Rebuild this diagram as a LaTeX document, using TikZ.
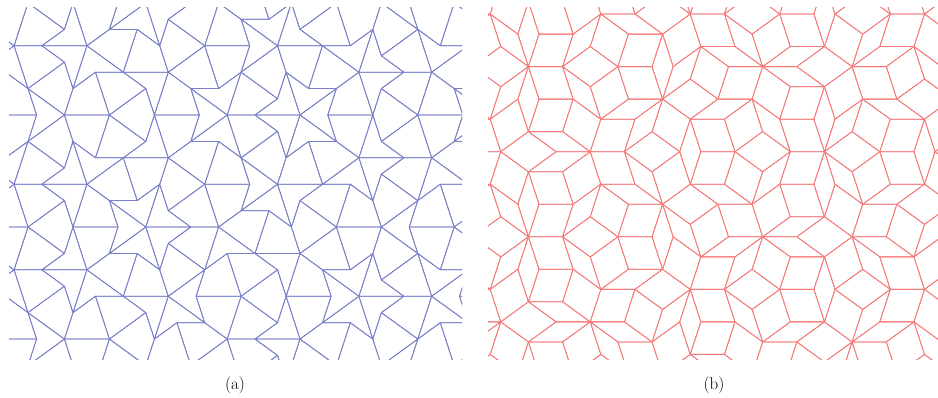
\documentclass[tikz,border=0pt]{standalone}
\usepackage{fontspec}
\usepackage{tikz}
\definecolor{kdblue}{HTML}{7880C8}
\definecolor{rhred}{HTML}{F47A7A}

% 1/phi
\def\gr{0.6180340}

% kites and darts: level, kind (0 half-kite, 1 half-dart), A, B, C
\newcommand\kdsub[8]{%
  \ifnum#1=0
    \draw[kdline] (#7,#8) -- (#3,#4) -- (#5,#6);
  \else
    \begingroup
    \edef\lvl{\the\numexpr#1-1\relax}%
    \ifnum#2=0
      \pgfmathsetmacro\qqx{(#3)+((#5)-(#3))*\gr}%
      \pgfmathsetmacro\qqy{(#4)+((#6)-(#4))*\gr}%
      \pgfmathsetmacro\rrx{(#5)+((#7)-(#5))*\gr}%
      \pgfmathsetmacro\rry{(#6)+((#8)-(#6))*\gr}%
      \xdef\todo{\noexpand\kdsub{\lvl}{1}{\rrx}{\rry}{\qqx}{\qqy}{#5}{#6}%
        \noexpand\kdsub{\lvl}{0}{\qqx}{\qqy}{#3}{#4}{\rrx}{\rry}%
        \noexpand\kdsub{\lvl}{0}{#7}{#8}{#3}{#4}{\rrx}{\rry}}%
    \else
      \pgfmathsetmacro\ppx{(#7)+((#3)-(#7))*\gr}%
      \pgfmathsetmacro\ppy{(#8)+((#4)-(#8))*\gr}%
      \xdef\todo{\noexpand\kdsub{\lvl}{1}{#5}{#6}{\ppx}{\ppy}{#3}{#4}%
        \noexpand\kdsub{\lvl}{0}{\ppx}{\ppy}{#7}{#8}{#5}{#6}}%
    \fi
    \expandafter\endgroup\todo
  \fi}

% rhombs: level, kind (0 thin half, 1 thick half), A, B, C
\newcommand\rhsub[8]{%
  \ifnum#1=0
    \draw[rhline] (#7,#8) -- (#3,#4) -- (#5,#6);
  \else
    \begingroup
    \edef\lvl{\the\numexpr#1-1\relax}%
    \ifnum#2=0
      \pgfmathsetmacro\ppx{(#3)+((#5)-(#3))*\gr}%
      \pgfmathsetmacro\ppy{(#4)+((#6)-(#4))*\gr}%
      \xdef\todo{\noexpand\rhsub{\lvl}{0}{#7}{#8}{\ppx}{\ppy}{#5}{#6}%
        \noexpand\rhsub{\lvl}{1}{\ppx}{\ppy}{#7}{#8}{#3}{#4}}%
    \else
      \pgfmathsetmacro\qqx{(#5)+((#3)-(#5))*\gr}%
      \pgfmathsetmacro\qqy{(#6)+((#4)-(#6))*\gr}%
      \pgfmathsetmacro\rrx{(#5)+((#7)-(#5))*\gr}%
      \pgfmathsetmacro\rry{(#6)+((#8)-(#6))*\gr}%
      \xdef\todo{\noexpand\rhsub{\lvl}{1}{\rrx}{\rry}{#7}{#8}{#3}{#4}%
        \noexpand\rhsub{\lvl}{1}{\qqx}{\qqy}{\rrx}{\rry}{#5}{#6}%
        \noexpand\rhsub{\lvl}{0}{\rrx}{\rry}{\qqx}{\qqy}{#3}{#4}}%
    \fi
    \expandafter\endgroup\todo
  \fi}

\begin{document}
\begin{tikzpicture}[
  x=1pt, y=-1pt,
  kdline/.style = {draw=kdblue, line width=0.8pt, line join=round},
  rhline/.style = {draw=rhred, line width=0.8pt, line join=round},
  lbl/.style = {font=\fontsize{17}{20}\selectfont, inner sep=0pt}
]
\useasboundingbox (0,0) rectangle (938,398);

% (a) kites and darts, sun of ten half-kites
\begin{scope}
  \clip (9,8) rectangle (462,360);
  \foreach \k in {0,...,4}{
    \pgfmathsetmacro\tx{300+499*cos(72*\k+180)}
    \pgfmathsetmacro\ty{115+499*sin(72*\k+180)}
    \pgfmathsetmacro\sax{300+499*cos(72*\k+216)}
    \pgfmathsetmacro\say{115+499*sin(72*\k+216)}
    \pgfmathsetmacro\sbx{300+499*cos(72*\k+144)}
    \pgfmathsetmacro\sby{115+499*sin(72*\k+144)}
    \kdsub{5}{0}{\sax}{\say}{300}{115}{\tx}{\ty}
    \kdsub{5}{0}{\sbx}{\sby}{300}{115}{\tx}{\ty}
  }
\end{scope}

% (b) rhombs, wheel of ten thin halves
\begin{scope}
  \clip (488,8) rectangle (938,360);
  \foreach \i in {0,...,9}{
    \pgfmathsetmacro\bx{735+379*cos(36*\i)}
    \pgfmathsetmacro\by{151.7+379*sin(36*\i)}
    \pgfmathsetmacro\cx{735+379*cos(36*\i+36)}
    \pgfmathsetmacro\cy{151.7+379*sin(36*\i+36)}
    \ifodd\i
      \rhsub{5}{0}{735}{151.7}{\bx}{\by}{\cx}{\cy}
    \else
      \rhsub{5}{0}{735}{151.7}{\cx}{\cy}{\bx}{\by}
    \fi
  }
\end{scope}

\node[lbl] (capa) at (235,385) {(a)};
\node[lbl] (capb) at (714,385) {(b)};

\end{tikzpicture}
\end{document}
